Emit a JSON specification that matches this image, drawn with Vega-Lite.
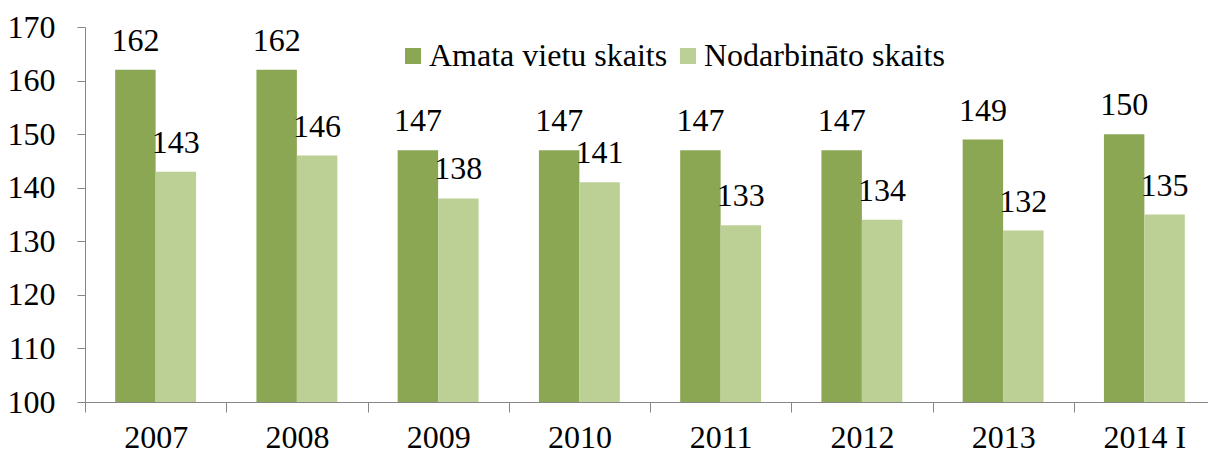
{
  "$schema": "https://vega.github.io/schema/vega-lite/v6.json",
  "autosize": "none",
  "padding": {"left": 85, "top": 27, "right": 0, "bottom": 48},
  "width": 1123,
  "height": 375,
  "background": "white",
  "config": {
    "view": {"stroke": null},
    "font": "Liberation Serif",
    "axis": {"labelFont": "Liberation Serif", "labelFontSize": 32, "labelColor": "black", "domainColor": "#868686", "tickColor": "#868686", "grid": false, "title": null},
    "legend": {"labelFont": "Liberation Serif", "labelFontSize": 32, "labelColor": "black", "labelLimit": 0}
  },
  "data": {
    "values": [
      {"year": "2007", "series": "Amata vietu skaits", "value": 162},
      {"year": "2007", "series": "Nodarbināto skaits", "value": 143},
      {"year": "2008", "series": "Amata vietu skaits", "value": 162},
      {"year": "2008", "series": "Nodarbināto skaits", "value": 146},
      {"year": "2009", "series": "Amata vietu skaits", "value": 147},
      {"year": "2009", "series": "Nodarbināto skaits", "value": 138},
      {"year": "2010", "series": "Amata vietu skaits", "value": 147},
      {"year": "2010", "series": "Nodarbināto skaits", "value": 141},
      {"year": "2011", "series": "Amata vietu skaits", "value": 147},
      {"year": "2011", "series": "Nodarbināto skaits", "value": 133},
      {"year": "2012", "series": "Amata vietu skaits", "value": 147},
      {"year": "2012", "series": "Nodarbināto skaits", "value": 134},
      {"year": "2013", "series": "Amata vietu skaits", "value": 149},
      {"year": "2013", "series": "Nodarbināto skaits", "value": 132},
      {"year": "2014 I", "series": "Amata vietu skaits", "value": 150},
      {"year": "2014 I", "series": "Nodarbināto skaits", "value": 135}
    ]
  },
  "encoding": {
    "x": {
      "field": "year", "type": "nominal", "sort": null,
      "scale": {"range": [0, 1130], "paddingInner": 0, "paddingOuter": 0},
      "axis": {"labelAngle": 0, "tickSize": 10, "tickBand": "extent", "labelPadding": 10, "domainWidth": 1, "tickWidth": 1}
    },
    "xOffset": {
      "field": "series", "type": "nominal",
      "scale": {"domain": ["Amata vietu skaits", "Nodarbināto skaits"], "paddingInner": 0, "paddingOuter": 0.746}
    },
    "y": {
      "field": "value", "type": "quantitative",
      "scale": {"domain": [100, 170], "nice": false, "zero": false},
      "axis": {"values": [100, 110, 120, 130, 140, 150, 160, 170], "tickSize": 8, "labelPadding": 22, "domainWidth": 1, "tickWidth": 1}
    }
  },
  "layer": [
    {
      "mark": {"type": "bar"},
      "encoding": {
        "y2": {"datum": 100},
        "color": {
          "field": "series", "type": "nominal",
          "scale": {"domain": ["Amata vietu skaits", "Nodarbināto skaits"], "range": ["#8ba753", "#bcd096"]},
          "legend": {"title": null, "orient": "none", "legendX": 312, "legendY": 13, "direction": "horizontal", "symbolType": "square", "symbolSize": 256, "symbolStrokeWidth": 0, "labelOffset": 0, "columnPadding": 4, "labelLimit": 0}
        }
      }
    },
    {
      "mark": {"type": "text", "baseline": "alphabetic", "dy": -19, "fontSize": 32, "font": "Liberation Serif", "color": "black"},
      "encoding": {"text": {"field": "value", "type": "quantitative"}}
    }
  ]
}
